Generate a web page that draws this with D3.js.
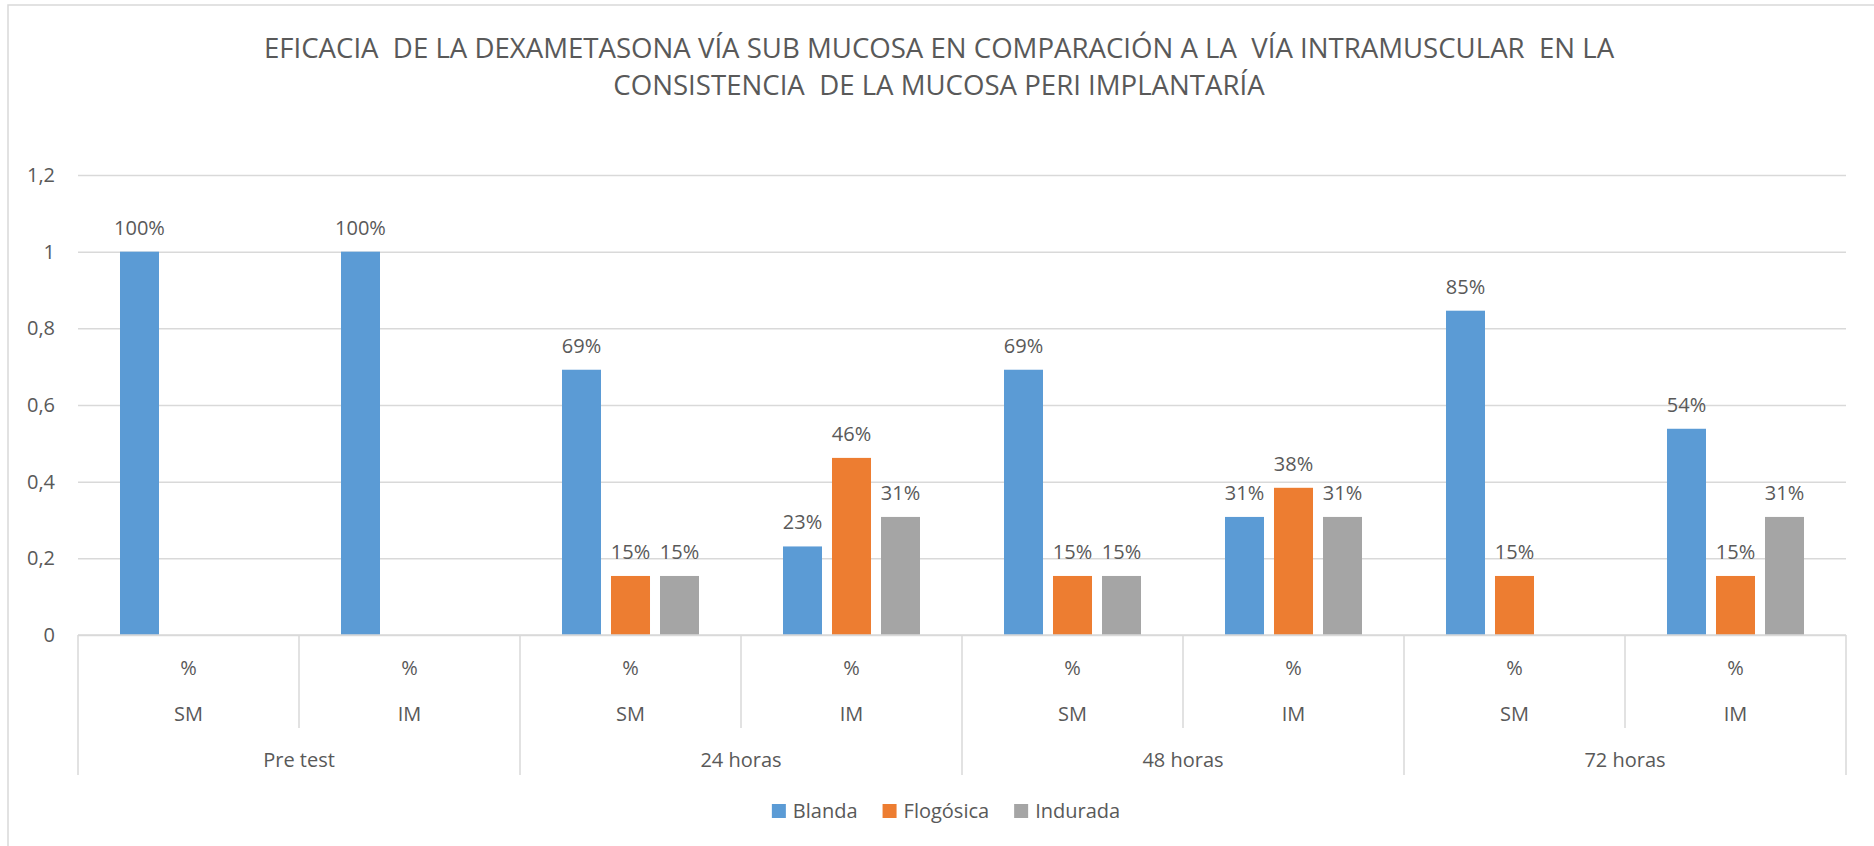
<!DOCTYPE html>
<html lang="es">
<head>
<meta charset="utf-8">
<script src="https://cdn.jsdelivr.net/npm/d3@7"></script>
<style>
  body { margin: 0; background: #fff; }
  svg { display: block; }
  text { font-family: "Open Sans", "Noto Sans", sans-serif; fill: #595959; }
  .title { white-space: pre; }
</style>
</head>
<body>
<svg id="chart" width="1874" height="846"></svg>
<script>
// data
const titleLines = [
  "EFICACIA  DE LA DEXAMETASONA VÍA SUB MUCOSA EN COMPARACIÓN A LA  VÍA INTRAMUSCULAR  EN LA",
  "CONSISTENCIA  DE LA MUCOSA PERI IMPLANTARÍA"
];
const groups = ["Pre test", "24 horas", "48 horas", "72 horas"];
const categories = ["SM", "IM", "SM", "IM", "SM", "IM", "SM", "IM"];
const unitLabel = "%";
const seriesNames = ["Blanda", "Flogósica", "Indurada"];
const seriesColors = ["#5b9bd5", "#ed7d31", "#a5a5a5"];
const blanda    = [1, 1, 0.692, 0.231, 0.692, 0.308, 0.846, 0.538];
const flogosica = [null, null, 0.154, 0.462, 0.154, 0.384, 0.154, 0.154];
const indurada  = [null, null, 0.154, 0.308, 0.154, 0.308, null, 0.308];
const yTicks = [0, 0.2, 0.4, 0.6, 0.8, 1, 1.2];

const series = [blanda, flogosica, indurada];

const svg = d3.select("#chart");
const plotLeft = 78, plotRight = 1846, plotTop = 175, plotBottom = 635;

const esLocale = d3.formatLocale({ decimal: ",", thousands: ".", grouping: [3], currency: ["", "€"] });
const tickFmt = esLocale.format("~g");
const pctFmt = d3.format(".0%");

// chart frame (top and left edges only)
svg.append("path")
  .attr("d", "M8,846V5H1874")
  .attr("fill", "none")
  .attr("stroke", "#d9d9d9")
  .attr("stroke-width", 1.5);

// title
svg.append("g").selectAll("text")
  .data(titleLines)
  .join("text")
  .attr("class", "title")
  .attr("x", 939)
  .attr("y", (d, i) => 58 + i * 37)
  .attr("text-anchor", "middle")
  .style("font-size", "27.6px")
  .text(d => d);

const x0 = d3.scaleBand().domain(d3.range(categories.length)).range([plotLeft, plotRight]);
const x1 = d3.scaleBand().domain(d3.range(series.length))
  .range([0, x0.bandwidth()])
  .paddingInner(0.204)
  .paddingOuter(0.857);
const y = d3.scaleLinear().domain([0, 1.2]).range([plotBottom, plotTop]);

// gridlines + y labels
const yAxis = svg.append("g")
  .attr("transform", `translate(${plotLeft},0)`)
  .call(d3.axisLeft(y).tickValues(yTicks).tickFormat(tickFmt)
    .tickSize(-(plotRight - plotLeft)).tickPadding(23));
yAxis.select(".domain").remove();
yAxis.selectAll(".tick line").attr("stroke", "#d9d9d9").attr("stroke-width", 1.5);
yAxis.selectAll(".tick text")
  .attr("fill", "#595959")
  .style("font-size", "20px")
  .style("font-family", "'Open Sans', sans-serif");

// bars
const cells = svg.append("g").selectAll("g")
  .data(categories.map((c, i) => i))
  .join("g")
  .attr("transform", i => `translate(${x0(i)},0)`);

const barData = i => series.map((s, k) => ({ k, v: s[i] })).filter(d => d.v != null && d.v > 0);

cells.selectAll("rect")
  .data(barData)
  .join("rect")
  .attr("x", d => x1(d.k))
  .attr("width", x1.bandwidth())
  .attr("y", d => y(d.v))
  .attr("height", d => y(0) - y(d.v))
  .attr("fill", d => seriesColors[d.k]);

cells.selectAll("text")
  .data(barData)
  .join("text")
  .attr("x", d => x1(d.k) + x1.bandwidth() / 2)
  .attr("y", d => y(d.v) - 17)
  .attr("text-anchor", "middle")
  .style("font-size", "20px")
  .text(d => pctFmt(d.v));

// multi-level category axis
const catAxis = svg.append("g");
catAxis.append("line")
  .attr("x1", plotLeft).attr("x2", plotRight)
  .attr("y1", plotBottom).attr("y2", plotBottom)
  .attr("stroke", "#d9d9d9").attr("stroke-width", 1.5);

const edges = d3.range(categories.length + 1);
catAxis.selectAll(".sep")
  .data(edges)
  .join("line")
  .attr("class", "sep")
  .attr("x1", i => i < categories.length ? x0(i) : plotRight)
  .attr("x2", i => i < categories.length ? x0(i) : plotRight)
  .attr("y1", plotBottom)
  .attr("y2", i => i % 2 === 0 ? 775 : 728)
  .attr("stroke", "#d9d9d9").attr("stroke-width", 1.5);

catAxis.selectAll(".unit")
  .data(categories)
  .join("text")
  .attr("class", "unit")
  .attr("x", (d, i) => x0(i) + x0.bandwidth() / 2)
  .attr("y", 668)
  .attr("dy", "0.35em")
  .attr("text-anchor", "middle")
  .style("font-size", "20px")
  .text(unitLabel);

catAxis.selectAll(".cat")
  .data(categories)
  .join("text")
  .attr("class", "cat")
  .attr("x", (d, i) => x0(i) + x0.bandwidth() / 2)
  .attr("y", 714)
  .attr("dy", "0.35em")
  .attr("text-anchor", "middle")
  .style("font-size", "20px")
  .text(d => d);

catAxis.selectAll(".grp")
  .data(groups)
  .join("text")
  .attr("class", "grp")
  .attr("x", (d, i) => x0(i * 2) + x0.bandwidth())
  .attr("y", 760)
  .attr("dy", "0.35em")
  .attr("text-anchor", "middle")
  .style("font-size", "20px")
  .text(d => d);

// legend
const legend = svg.append("g");
const items = legend.selectAll("g")
  .data(seriesNames)
  .join("g");
items.append("rect")
  .attr("width", 14).attr("height", 14)
  .attr("y", -7)
  .attr("fill", (d, i) => seriesColors[i]);
items.append("text")
  .attr("x", 21)
  .attr("dy", "0.35em")
  .style("font-size", "20px")
  .text(d => d);

let offset = 0;
const widths = [];
items.each(function () {
  const w = 21 + this.querySelector("text").getComputedTextLength();
  widths.push(w);
});
const gap = 25;
const total = d3.sum(widths) + gap * (widths.length - 1);
items.attr("transform", (d, i) => {
  const x = offset;
  offset += widths[i] + gap;
  return `translate(${x},0)`;
});
legend.attr("transform", `translate(${946 - total / 2},811)`);
</script>
</body>
</html>
